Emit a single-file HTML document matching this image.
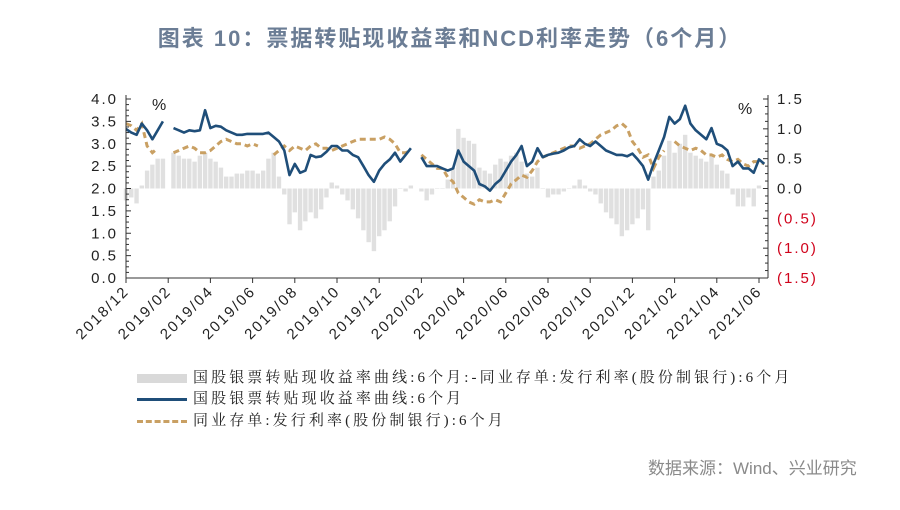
<!DOCTYPE html>
<html><head><meta charset="utf-8">
<style>
body{margin:0;background:#fff;width:900px;height:510px;overflow:hidden;font-family:"Liberation Sans","Noto Sans CJK SC",sans-serif;}
#title{position:absolute;left:0;top:21px;width:900px;text-align:center;font-size:22px;font-weight:bold;color:#6b7d95;letter-spacing:2px;}
#src{position:absolute;left:648px;top:454px;font-size:17px;color:#8a8a8a;}
.leg{position:absolute;left:137px;font-family:"Liberation Serif","Noto Serif CJK SC",serif;font-size:15px;color:#222;letter-spacing:3.1px;white-space:nowrap;}
.sw{display:inline-block;width:50px;vertical-align:middle;margin-right:6px;}
</style></head><body>
<div id="title">图表 10：票据转贴现收益率和NCD利率走势（6个月）</div>
<svg id="chart" width="900" height="510" style="position:absolute;left:0;top:0"></svg>
<div class="leg" style="top:366px"><span class="sw" style="height:9px;background:#d9d9d9"></span>国股银票转贴现收益率曲线:6个月:-同业存单:发行利率(股份制银行):6个月</div>
<div class="leg" style="top:387px"><span class="sw" style="height:3px;background:#1f4e79"></span>国股银票转贴现收益率曲线:6个月</div>
<div class="leg" style="top:409px"><span class="sw" style="height:0;border-top:3px dashed #c9a063"></span>同业存单:发行利率(股份制银行):6个月</div>
<div id="src">数据来源：Wind、兴业研究</div>
<script>
const xTickLabels=["2018/12","2019/02","2019/04","2019/06","2019/08","2019/10","2019/12","2020/02","2020/04","2020/06","2020/08","2020/10","2020/12","2021/02","2021/04","2021/06"];
const leftTicks=[0,0.5,1,1.5,2,2.5,3,3.5,4];
const rightTicks=[-1.5,-1,-0.5,0,0.5,1,1.5];
const billYield=[3.33,3.25,3.2,3.45,3.3,3.1,3.3,3.5,null,3.35,3.3,3.25,3.3,3.28,3.3,3.75,3.35,3.4,3.38,3.3,3.25,3.2,3.2,3.22,3.22,3.22,3.22,3.25,3.15,3.05,2.85,2.3,2.55,2.35,2.4,2.75,2.7,2.72,2.82,2.95,2.95,2.85,2.85,2.75,2.7,2.5,2.3,2.15,2.4,2.55,2.65,2.8,2.6,2.75,2.9,null,2.7,2.5,2.5,2.5,2.45,2.4,2.45,2.85,2.6,2.5,2.4,2.1,2.05,1.95,2.1,2.2,2.4,2.6,2.75,2.95,2.5,2.6,2.9,2.7,2.75,2.78,2.8,2.85,2.92,2.95,3.1,3.0,2.95,3.05,2.95,2.85,2.8,2.75,2.75,2.72,2.78,2.65,2.5,2.2,2.55,2.85,3.15,3.6,3.45,3.55,3.85,3.45,3.3,3.2,3.1,3.35,3.0,2.95,2.85,2.5,2.6,2.45,2.45,2.35,2.65,2.55];
const ncdRate=[3.45,3.4,3.3,3.45,2.95,2.8,2.9,null,null,2.8,2.85,2.9,2.95,2.9,2.8,2.8,2.85,2.95,3.05,3.1,3.05,3.0,3.0,2.95,3.0,2.95,null,null,2.75,2.85,2.95,2.85,2.95,2.9,2.85,2.95,3.0,2.9,2.9,2.85,2.9,2.95,3.0,3.05,3.1,3.1,3.1,3.1,3.1,3.15,3.1,3.0,2.8,2.8,2.85,null,2.75,2.65,2.55,2.45,2.45,2.25,2.15,1.9,1.8,1.7,1.65,1.75,1.7,1.7,1.75,1.7,1.9,2.1,2.2,2.3,2.25,2.4,2.6,2.7,2.75,2.8,2.85,2.9,2.95,2.95,2.9,2.95,3.0,3.1,3.2,3.25,3.3,3.4,3.45,3.35,3.05,2.9,2.7,2.75,2.45,2.7,2.85,null,3.05,2.95,2.9,2.85,2.9,2.85,2.75,2.75,2.7,2.75,2.65,2.6,2.65,2.55,2.5,2.6,2.6,2.55];
const spread=[-0.2,-0.15,-0.25,0.05,0.3,0.4,0.5,0.5,null,0.6,0.55,0.5,0.5,0.45,0.55,0.6,0.5,0.45,0.35,0.2,0.2,0.25,0.25,0.3,0.3,0.25,0.3,0.5,0.6,0.2,-0.1,-0.6,-0.4,-0.7,-0.55,-0.4,-0.5,-0.35,-0.15,0.1,0.05,-0.1,-0.2,-0.35,-0.5,-0.7,-0.9,-1.05,-0.8,-0.7,-0.55,-0.3,0.0,-0.05,0.05,null,-0.05,-0.2,-0.1,0.0,0.0,0.15,0.35,1.0,0.85,0.8,0.75,0.35,0.3,0.25,0.4,0.5,0.45,0.55,0.6,0.45,0.25,0.2,0.35,0.0,-0.15,-0.1,-0.1,-0.05,0.0,0.05,0.15,0.05,-0.05,-0.1,-0.25,-0.4,-0.5,-0.6,-0.8,-0.7,-0.6,-0.5,-0.35,-0.7,0.2,0.3,0.55,0.8,0.6,0.75,0.9,0.6,0.55,0.5,0.45,0.55,0.4,0.3,0.25,-0.1,-0.3,-0.3,-0.15,-0.3,0.05,0.0];

const NS="http://www.w3.org/2000/svg";
const svg=document.getElementById('chart');
const X0=126,X1=768,YT=99,YB=278;
const xm=m=>X0+m*21.1;
const yL=v=>YB-(v/4)*(YB-YT);
const yR=v=>YT+(1.5-v)/3*(YB-YT);
function mk(t,a,p){const e=document.createElementNS(NS,t);for(const k in a)e.setAttribute(k,a[k]);(p||svg).appendChild(e);return e;}

const gb=mk('g',{});


spread.forEach((v,i)=>{if(v===null)return;const x=xm(i/4);const y0=yR(0),y1=yR(v);
const r=mk('rect',{x:x-2.2,y:Math.min(y0,y1),width:4.4,height:Math.max(0.5,Math.abs(y1-y0)),fill:'#e0e0e0'},gb);

});

function pathOf(arr,f){let d='',pen=false;arr.forEach((v,i)=>{if(v===null){pen=false;return;}d+=(pen?'L':'M')+xm(i/4).toFixed(1)+','+f(v).toFixed(1);pen=true;});return d;}
const ncd=mk('path',{d:pathOf(ncdRate,yL),fill:'none',stroke:'#c9a063','stroke-width':3,'stroke-dasharray':'6,4'});


const bl=mk('path',{d:pathOf(billYield,yL),fill:'none',stroke:'#1f4e79','stroke-width':2.6,'stroke-linejoin':'round'});



const ax=mk('g',{stroke:'#333','stroke-width':1});


mk('line',{x1:X0,y1:YT-4,x2:X0,y2:YB},ax);
mk('line',{x1:X1,y1:YT-4,x2:X1,y2:YB},ax);
mk('line',{x1:X0,y1:YB,x2:X1,y2:YB},ax);
for(let v=0;v<=4.001;v+=0.125){mk('line',{x1:X0,y1:yL(v),x2:X0+ (Math.abs(v*2-Math.round(v*2))<0.01?5:3),y2:yL(v)},ax);}
for(let v=-1.5;v<=1.501;v+=0.125){mk('line',{x1:X1,y1:yR(v),x2:X1-(Math.abs(v*2-Math.round(v*2))<0.01?5:3),y2:yR(v)},ax);}
const tf='font-family:"Liberation Sans",sans-serif;font-size:15px;letter-spacing:2px';
leftTicks.forEach(v=>{const t=mk('text',{x:X0-8,y:yL(v)+5,'text-anchor':'end',fill:'#222',style:tf});t.textContent=v.toFixed(1);

});
rightTicks.forEach(v=>{const t=mk('text',{x:X1+9,y:yR(v)+5,'text-anchor':'start',fill:v<0?'#d0021b':'#222',style:tf});t.textContent=v<0?'('+(-v).toFixed(1)+')':v.toFixed(1);

});
xTickLabels.forEach((s,i)=>{const x=xm(i*2);mk('line',{x1:x,y1:YB,x2:x,y2:YB+5},ax);
const t=mk('text',{x:x+4,y:YB+14,'text-anchor':'end',fill:'#222',transform:`rotate(-45 ${x+4} ${YB+14})`,style:tf});t.textContent=s;

});
const p1=mk('text',{x:152,y:110,fill:'#222',style:'font-family:"Liberation Sans",sans-serif;font-size:16px'});p1.textContent='%';


const p2=mk('text',{x:738,y:114,fill:'#222',style:'font-family:"Liberation Sans",sans-serif;font-size:16px'});p2.textContent='%';


</script>
</body></html>
